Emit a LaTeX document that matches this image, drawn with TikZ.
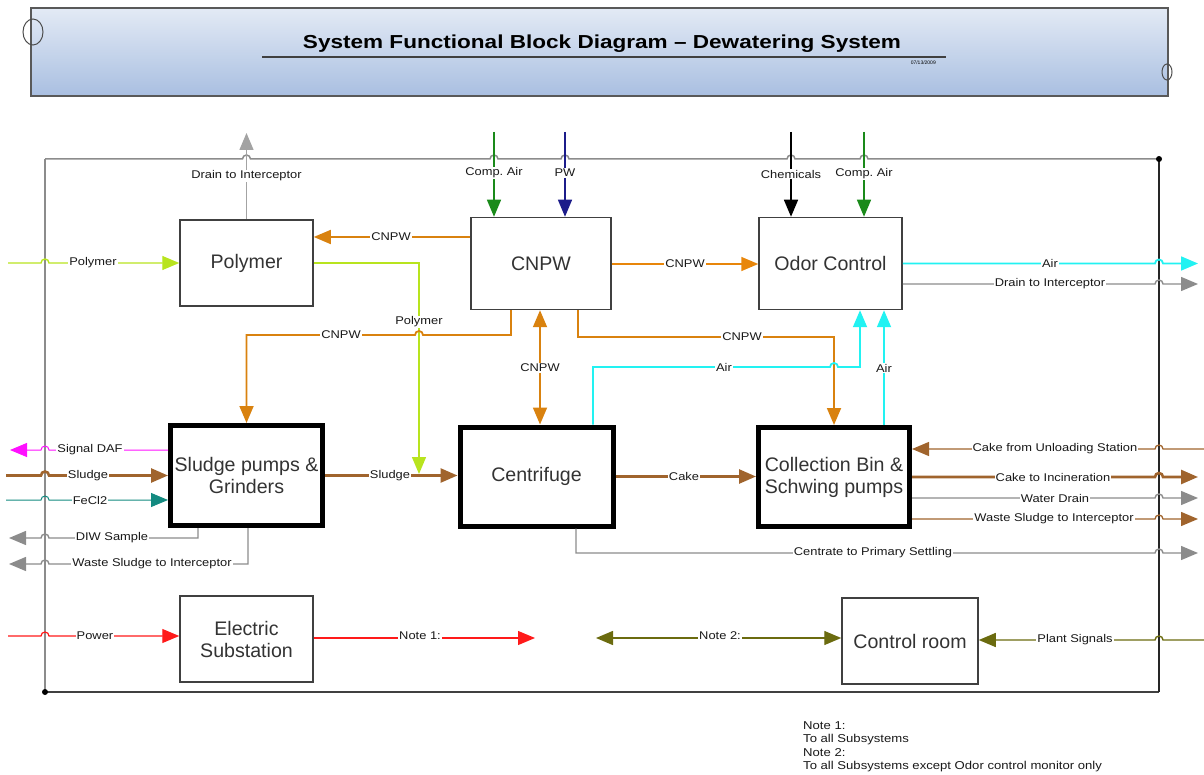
\documentclass[tikz,border=0pt]{standalone}
\usepackage{fontspec}
\setmainfont{Liberation Sans}
\newfontfamily\lblf[FakeStretch=1.15]{Liberation Sans}
\newfontfamily\ttlf[FakeStretch=1.2]{Liberation Sans}
\usetikzlibrary{arrows.meta}
\definecolor{cnC}{HTML}{D9820F}
\definecolor{cnB}{HTML}{E8860A}
\definecolor{brnC}{HTML}{A0642D}
\definecolor{ygC}{HTML}{B8E41E}
\definecolor{cyC}{HTML}{22F2F2}
\definecolor{gryC}{HTML}{8C8C8C}
\definecolor{magC}{HTML}{FF10FF}
\definecolor{tealC}{HTML}{138A80}
\definecolor{redC}{HTML}{FF1A1A}
\definecolor{olvC}{HTML}{6B6B0F}
\definecolor{grnC}{HTML}{1A8A1A}
\definecolor{navC}{HTML}{1C1C8A}
\definecolor{bannerTop}{HTML}{E3EAF5}
\definecolor{bannerBot}{HTML}{A9BFE1}
\frenchspacing
\begin{document}
\begin{tikzpicture}[x=1pt,y=-1pt,
  blk/.style={draw=black!75, line width=1.5pt, inner sep=0pt, align=center,
    text=black!80, font=\fontsize{19.6}{22}\selectfont},
  tblk/.style={blk, draw=black, line width=5pt},
  lbl/.style={fill=white, inner sep=1pt, text=black!90,
    font=\lblf\fontsize{11.2}{12}\selectfont},
  tip/.style={-{Triangle[length=17pt,width=14pt]}},
  tips/.style={{Triangle[length=17pt,width=14pt]}-{Triangle[length=17pt,width=14pt]}},
  cn/.style={draw=cnC, line width=1.8pt},
  brn/.style={draw=brnC, line width=2.6pt},
  brnthin/.style={draw=brnC, line width=1.3pt},
  yg/.style={draw=ygC, line width=1.4pt},
  cy/.style={draw=cyC, line width=1.8pt},
  gry/.style={draw=gryC, line width=1.4pt},
  frame/.style={line width=1.5pt}
]
\useasboundingbox (0,0) rectangle (1204,775);

% ---------------- banner ----------------
\shade[top color=bannerTop, bottom color=bannerBot] (31,8) rectangle (1168,96);
\draw[black!65, line width=1.2pt] (31,8) rectangle (1168,96);
\draw[black!70, line width=1pt] (33,32) ellipse [x radius=10pt, y radius=13pt];
\draw[black!70, line width=1pt] (1167,72) ellipse [x radius=5pt, y radius=8pt];
\node[font=\ttlf\bfseries\fontsize{18.8}{21}\selectfont] (title) at (602,44) {System Functional Block Diagram \textendash{} Dewatering System};
\draw[black!75, line width=1.5pt] (262,57) -- (946,57);
\node[anchor=east, inner sep=0pt, font=\fontsize{5}{6}\selectfont] (date) at (936,63) {07/13/2009};

% ---------------- blocks ----------------
\node[blk, minimum width=133pt, minimum height=86pt] (poly) at (246.5,263) {Polymer};
\node[blk, minimum width=140pt, minimum height=92pt] (cnpw) at (541,263.5) {CNPW};
\node[blk, minimum width=143pt, minimum height=92pt] (odor) at (830.5,263.5) {Odor Control};
\node[tblk, minimum width=152pt, minimum height=100pt] (sludge) at (246.5,475.5) {Sludge pumps \&\\Grinders};
\node[tblk, minimum width=153pt, minimum height=99pt] (cent) at (536.5,476.5) {Centrifuge};
\node[tblk, minimum width=151pt, minimum height=99pt] (coll) at (834,477) {Collection Bin \&\\Schwing pumps};
\node[blk, minimum width=133pt, minimum height=86pt] (elec) at (246.5,639) {Electric\\Substation};
\node[blk, minimum width=136pt, minimum height=86pt] (ctrl) at (910,641) {Control room};

% free ends
\coordinate (drainT) at (246.5,133);
\coordinate (ca1) at (494,132);
\coordinate (pw) at (565,132);
\coordinate (chem) at (791,132);
\coordinate (ca2) at (864,132);
\coordinate (polyIn) at (8,263);
\coordinate (polyDrop) at (419,474);
\coordinate (airOut) at (1198,263.5);
\coordinate (drainOut) at (1198,284);
\coordinate (dafOut) at (10,450);
\coordinate (sludgeIn) at (6,475.5);
\coordinate (fecIn) at (6,500);
\coordinate (diwOut) at (9,538);
\coordinate (wsOut) at (9,564);
\coordinate (centrOut) at (1198,553);
\coordinate (cakeIn) at (1204,449);
\coordinate (cakeOut) at (1198,477);
\coordinate (waterOut) at (1198,498);
\coordinate (wasteOut) at (1198,519);
\coordinate (powerIn) at (8,636);
\coordinate (note1) at (535,638);
\coordinate (note2) at (596,638);
\coordinate (plantIn) at (1204,640);

% ---------------- frame ----------------
\draw[gryC, frame] (45,159) -- (242.5,159) arc[start angle=180,end angle=0,radius=4pt]
  -- (490,159) arc[start angle=180,end angle=0,radius=4pt]
  -- (561,159) arc[start angle=180,end angle=0,radius=4pt]
  -- (787,159) arc[start angle=180,end angle=0,radius=4pt]
  -- (860,159) arc[start angle=180,end angle=0,radius=4pt]
  -- (1159,159);
\draw[gryC, line width=1.2pt] (45,159) -- (45,692);
\draw[black!75, frame] (45,692) -- (1159,692);
\draw[black!85, frame] (1159,159) -- (1159,692);
\fill[black] (1159,159) circle (3pt);
\fill[black] (45,692) circle (3pt);

% ---------------- top inputs ----------------
\draw[gry, tip, draw=gryC!80] (poly.north) -- (drainT);
\draw[draw=grnC, line width=1.3pt, tip] (ca1) -- (ca1 |- cnpw.north);
\draw[draw=navC, line width=1.3pt, tip] (pw) -- (pw |- cnpw.north);
\draw[draw=black, line width=1.5pt, tip] (chem) -- (chem |- odor.north);
\draw[draw=grnC, line width=1.3pt, tip] (ca2) -- (ca2 |- odor.north);

% ---------------- CNPW and polymer ----------------
\draw[cn, tip] (cnpw.west |- 0,237) -- (poly.east |- 0,237);
\draw[yg, tip] (polyIn) -- (41,263) arc[start angle=180,end angle=0,radius=4pt] -- (poly.west);
\draw[yg, tip] (poly.east) -- (419,263) -- (polyDrop);
\draw[cn, tip] (cnpw.south -| 511,0) -- (511,335) -- (423,335) arc[start angle=0,end angle=180,radius=4pt] -- (246.5,335) -- (sludge.north);
\draw[cn, tips] (cnpw.south -| 540,0) -- (cent.north -| 540,0);
\draw[cn, tip] (cnpw.south -| 578,0) -- (578,337) -- (834,337) -- (coll.north);
\draw[draw=cnB, line width=1.7pt, tip] (cnpw.east |- 0,264) -- node[lbl] (l7) {CNPW} (odor.west |- 0,264);

% ---------------- air ----------------
\draw[cy, tip] (cent.north -| 593,0) -- (593,367) -- (830,367) arc[start angle=180,end angle=0,radius=4pt] -- (860,367) -- (odor.south -| 860,0);
\draw[cy, tip] (coll.north -| 884,0) -- (odor.south -| 884,0);
\draw[cy, tip] (odor.east) -- (1155,263.5) arc[start angle=180,end angle=0,radius=4pt] -- (airOut);
\draw[gry, tip] (odor.east |- 0,284) -- (1155,284) arc[start angle=180,end angle=0,radius=4pt] -- (drainOut);

% ---------------- sludge pumps side ----------------
\draw[draw=magC, line width=1pt, tip] (sludge.west |- 0,450) -- (49,450) arc[start angle=0,end angle=180,radius=4pt] -- (dafOut);
\draw[brn, tip] (sludgeIn) -- (41,475.5) arc[start angle=180,end angle=0,radius=4pt] -- (sludge.west);
\draw[draw=tealC, line width=1pt, tip] (fecIn) -- (41,500) arc[start angle=180,end angle=0,radius=4pt] -- (sludge.west |- 0,500);
\draw[gry, tip] (sludge.south -| 198,0) -- (198,538) -- (49,538) arc[start angle=0,end angle=180,radius=4pt] -- (diwOut);
\draw[gry, tip] (sludge.south -| 248,0) -- (248,564) -- (49,564) arc[start angle=0,end angle=180,radius=4pt] -- (wsOut);
\draw[brn, tip] (sludge.east) -- (cent.west |- sludge.east);
\draw[brn, tip] (cent.east) -- (coll.west |- cent.east);

% ---------------- collection side ----------------
\draw[gry, tip] (cent.south -| 576,0) -- (576,553) -- (1155,553) arc[start angle=180,end angle=0,radius=4pt] -- (centrOut);
\draw[brnthin, tip] (cakeIn) -- (1163,449) arc[start angle=0,end angle=180,radius=4pt] -- (coll.east |- 0,449);
\draw[brn, tip] (coll.east |- 0,477) -- (1155,477) arc[start angle=180,end angle=0,radius=4pt] -- (cakeOut);
\draw[gry, tip] (coll.east |- 0,498) -- (1155,498) arc[start angle=180,end angle=0,radius=4pt] -- (waterOut);
\draw[brnthin, tip] (coll.east |- 0,519) -- (1155,519) arc[start angle=180,end angle=0,radius=4pt] -- (wasteOut);

% ---------------- bottom ----------------
\draw[draw=redC, line width=1.2pt, tip] (powerIn) -- (41,636) arc[start angle=180,end angle=0,radius=4pt] -- (elec.west |- 0,636);
\draw[draw=redC, line width=1.2pt, tip] (elec.east |- 0,638) -- (note1);
\draw[draw=olvC, line width=1.4pt, tips] (note2) -- (ctrl.west |- note2);
\draw[draw=olvC, line width=1.4pt, tip] (plantIn) -- (1163,640) arc[start angle=0,end angle=180,radius=4pt] -- (ctrl.east |- 0,640);

% ---------------- labels ----------------
\node[lbl] (l1) at (246.5,176) {Drain to Interceptor};
\node[lbl] (l2) at (494,173) {Comp. Air};
\node[lbl] (l3) at (565,173) {PW};
\node[lbl] (l4) at (791,174) {Chemicals};
\node[lbl] (l5) at (864,174) {Comp. Air};
\node[lbl] (l6) at (391,237) {CNPW};
\node[lbl] (l8) at (93,263) {Polymer};
\node[lbl] (l9) at (419,322) {Polymer};
\node[lbl] (l10) at (341,335) {CNPW};
\node[lbl] (l11) at (540,368) {CNPW};
\node[lbl] (l12) at (742,337) {CNPW};
\node[lbl] (l13) at (724,367) {Air};
\node[lbl] (l14) at (884,368) {Air};
\node[lbl] (l15) at (1050,263.5) {Air};
\node[lbl] (l16) at (1050,284) {Drain to Interceptor};
\node[lbl] (l17) at (90,450) {Signal DAF};
\node[lbl] (l18) at (88,475.5) {Sludge};
\node[lbl] (l19) at (90,500) {FeCl2};
\node[lbl] (l20) at (112,538) {DIW Sample};
\node[lbl] (l21) at (152,564) {Waste Sludge to Interceptor};
\node[lbl] (l22) at (390,475.5) {Sludge};
\node[lbl] (l23) at (684,476.5) {Cake};
\node[lbl] (l24) at (873,553) {Centrate to Primary Settling};
\node[lbl] (l25) at (1055,449) {Cake from Unloading Station};
\node[lbl] (l26) at (1053,477) {Cake to Incineration};
\node[lbl] (l27) at (1055,498) {Water Drain};
\node[lbl] (l28) at (1054,519) {Waste Sludge to Interceptor};
\node[lbl] (l29) at (95,636) {Power};
\node[lbl] (l30) at (420,636) {Note 1:};
\node[lbl] (l31) at (720,636) {Note 2:};
\node[lbl] (l32) at (1075,640) {Plant Signals};

% ---------------- notes ----------------
\node[anchor=north west, inner sep=0pt, align=left, text=black!90,
  font=\lblf\fontsize{11.4}{13.6}\selectfont] (notes) at (803,721)
  {Note 1:\\To all Subsystems\\Note 2:\\To all Subsystems except Odor control monitor only};
\end{tikzpicture}
\end{document}
